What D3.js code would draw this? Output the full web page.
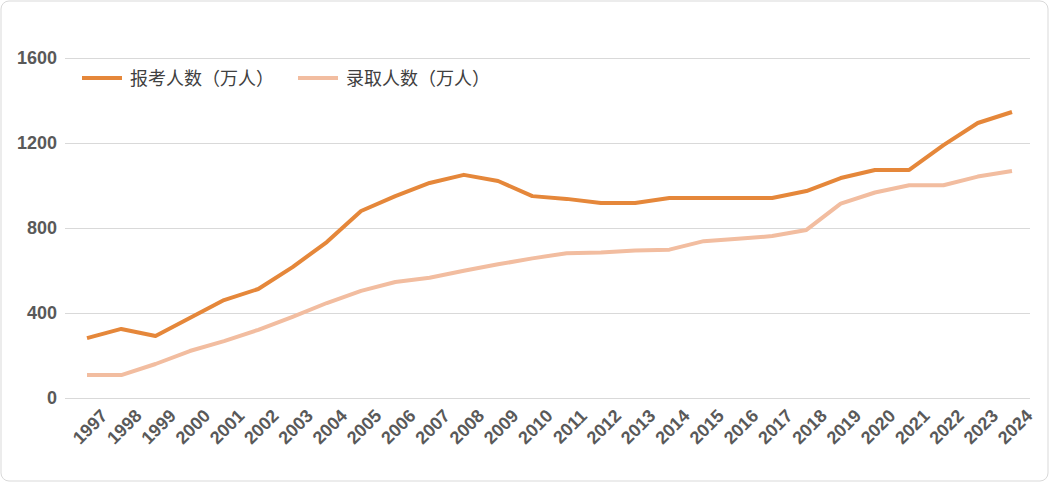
<!DOCTYPE html><html><head><meta charset="utf-8"><script src="https://cdn.jsdelivr.net/npm/d3@7"></script>
<style>body{margin:0;background:#fff}svg{font-family:"Noto Sans CJK SC","Liberation Sans",sans-serif}</style></head><body><svg width="1050" height="483"></svg><script>
const years=d3.range(1997,2025).map(String);
const applicants=[282,325,292,376,461,513,616,734,880,950,1012,1050,1021,950,937,918,918,941,941,941,941,974,1035,1073,1073,1190,1294,1346];
const admitted=[108,108,160,221,268,321,382,447,504,546,566,599,629,657,681,685,694,698,738,749,762,791,915,967,1001,1001,1042,1068];
const seriesNames=["报考人数（万人）","录取人数（万人）"];
const colors=["#E5873A","#F2BDA0"];
const yTicks=[0,400,800,1200,1600];
const svg=d3.select("svg");
svg.append("rect").attr("x",1).attr("y",1).attr("width",1047).attr("height",480).attr("rx",8).attr("fill","#fff").attr("stroke","#d9d9d9");
const x=d3.scalePoint().domain(years).range([87,1012]);
const y=d3.scaleLinear().domain([0,1600]).range([398,58]);
const ga=svg.append("g").attr("transform","translate(65,0)").call(d3.axisLeft(y).tickValues(yTicks).tickSize(-965).tickFormat(d3.format("d")));
ga.select(".domain").remove();
ga.selectAll("line").attr("stroke","#d9d9d9");
ga.selectAll("text").attr("x",-8).attr("fill","#595959").attr("font-size",18).attr("font-weight","bold").attr("font-family","Liberation Sans,Arial");
const gx=svg.append("g").attr("transform","translate(0,398)").call(d3.axisBottom(x).tickSize(0));
gx.select(".domain").remove();
gx.selectAll("text").attr("fill","#595959").attr("font-size",18).attr("font-weight","bold").attr("font-family","Liberation Sans,Arial")
 .attr("text-anchor","end").attr("transform","translate(10,8) rotate(-45)").attr("dy","0.7em");
[applicants,admitted].forEach((s,i)=>{
 svg.append("path").datum(s).attr("fill","none").attr("stroke",colors[i]).attr("stroke-width",4).attr("stroke-linejoin","round")
 .attr("d",d3.line().x((d,j)=>x(years[j])).y(d=>y(d)));
});
const lg=[[82,seriesNames[0]],[298,seriesNames[1]]];
lg.forEach(([lx,t],i)=>{
 svg.append("line").attr("x1",lx).attr("x2",lx+40).attr("y1",78).attr("y2",78).attr("stroke",colors[i]).attr("stroke-width",4);
 svg.append("text").attr("x",lx+48).attr("y",85).attr("font-size",18).attr("fill","#404040").text(t);
});
</script></body></html>
